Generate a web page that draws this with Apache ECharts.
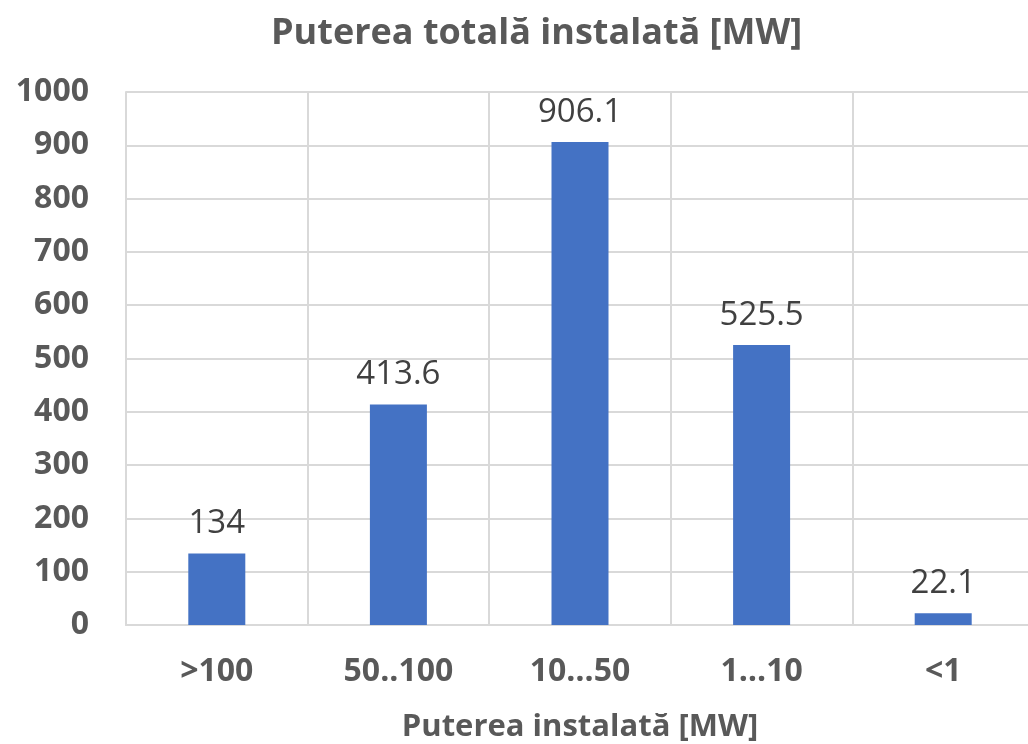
<!DOCTYPE html>
<html>
<head>
<meta charset="utf-8">
<script src="https://cdn.jsdelivr.net/npm/echarts@6/dist/echarts.min.js"></script>
<style>
  html, body { margin: 0; padding: 0; background: #fff; }
  #chart { width: 1028px; height: 744px; }
</style>
</head>
<body>
<div id="chart"></div>
<script>
// Installed power by plant size class
const categories = ['>100', '50..100', '10…50', '1…10', '<1'];
const values = [134, 413.6, 906.1, 525.5, 22.1];
const yTicks = { min: 0, max: 1000, interval: 100 };

const titleText = 'Puterea totală instalată [MW]';
const xAxisTitle = 'Puterea instalată [MW]';

const FONT = '"Open Sans", sans-serif';

const chart = echarts.init(document.getElementById('chart'), null, { renderer: 'canvas' });
chart.setOption({
  animation: false,
  backgroundColor: '#ffffff',
  title: {
    text: titleText,
    left: 266,
    top: 11,
    textStyle: { fontFamily: FONT, fontSize: 36, fontWeight: 'bold', color: '#595959' }
  },
  grid: {
    left: 126, right: -6, top: 92, bottom: 119,
    containLabel: false, outerBoundsMode: 'none'
  },
  xAxis: {
    type: 'category',
    data: categories,
    name: xAxisTitle,
    nameLocation: 'middle',
    nameGap: 87,
    nameTextStyle: { fontFamily: FONT, fontSize: 31, fontWeight: 'bold', color: '#595959' },
    axisLine: { lineStyle: { color: '#d9d9d9', width: 2 } },
    axisTick: { show: false },
    axisLabel: { fontFamily: FONT, fontSize: 32, fontWeight: 'bold', color: '#595959', margin: 31 },
    splitLine: { show: true, lineStyle: { color: '#d9d9d9', width: 2 } }
  },
  yAxis: {
    type: 'value',
    min: yTicks.min,
    max: yTicks.max,
    interval: yTicks.interval,
    axisLine: { show: true, lineStyle: { color: '#d9d9d9', width: 2 } },
    axisTick: { show: false },
    axisLabel: {
      fontFamily: FONT, fontSize: 32, fontWeight: 'bold', color: '#595959', margin: 37,
      formatter: v => String(v)
    },
    splitLine: { show: true, lineStyle: { color: '#d9d9d9', width: 2 } }
  },
  series: [{
    type: 'bar',
    data: values,
    barWidth: 57,
    itemStyle: { color: '#4472C4' },
    label: {
      show: true,
      position: 'top',
      distance: 13,
      fontFamily: FONT,
      fontSize: 33,
      color: '#404040'
    }
  }]
});
</script>
</body>
</html>
